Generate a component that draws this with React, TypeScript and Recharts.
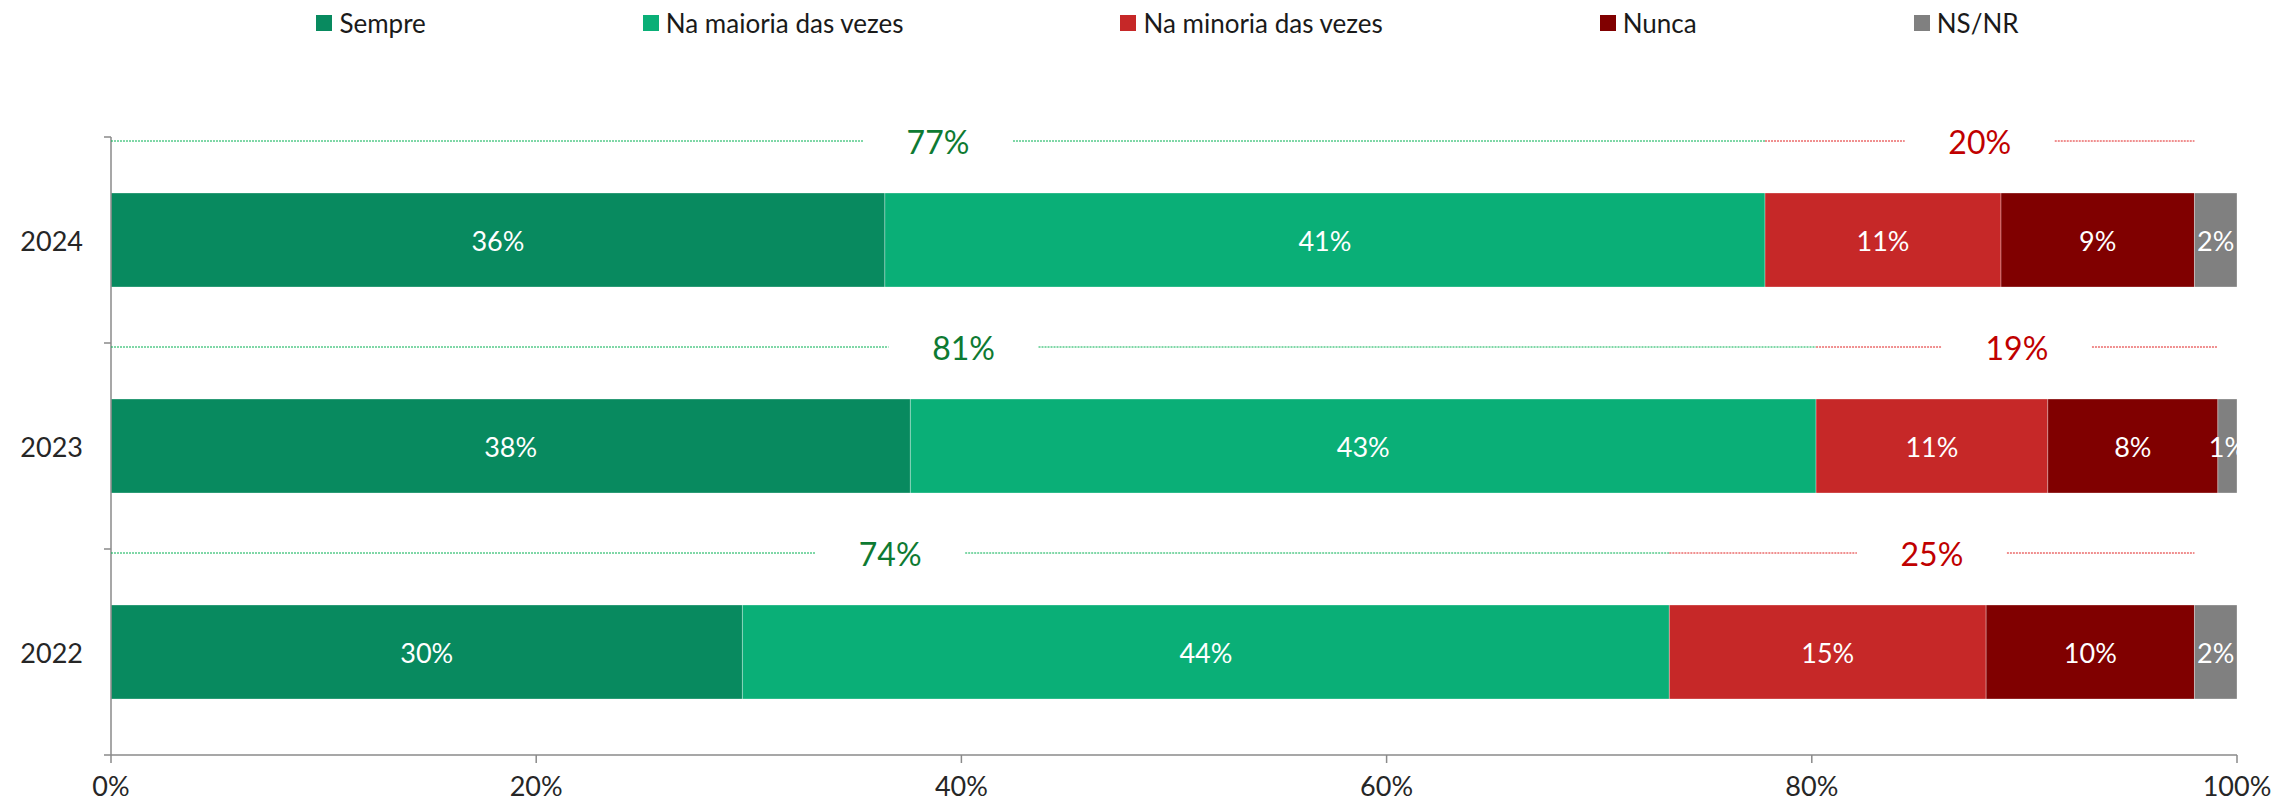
import React from 'react';
import { BarChart, Bar, XAxis, YAxis, Legend, LabelList } from 'recharts';

const years = ['2024', '2023', '2022'];
const sempre = [36.4, 37.6, 29.7];
const maioria = [41.4, 42.6, 43.6];
const minoria = [11.1, 10.9, 14.9];
const nunca = [9.1, 8.0, 9.8];
const nsnr = [2.0, 0.9, 2.0];
const xTicks = [0, 20, 40, 60, 80, 100];
const seriesKeys = ['sempre', 'maioria', 'minoria', 'nunca', 'nsnr'];
const seriesNames = ['Sempre', 'Na maioria das vezes', 'Na minoria das vezes', 'Nunca', 'NS/NR'];
const seriesColors = ['#088A5F', '#0AAF77', '#C62828', '#800000', '#808080'];

const data = years.map((year, i) => ({
  year,
  sempre: sempre[i],
  maioria: maioria[i],
  minoria: minoria[i],
  nunca: nunca[i],
  nsnr: nsnr[i],
}));

const FONT = 'Lato, "Open Sans", sans-serif';
const W = 2279;
const H = 796;
const MARGIN = { top: 129, right: 50, bottom: 9, left: 0 };
const X_AXIS_H = 40;
const PLOT_H = H - MARGIN.top - MARGIN.bottom - X_AXIS_H;
const AXIS = '#8a8a8a';
const GREEN_LINE = '#00B050';
const GREEN_TEXT = '#0E7A32';
const RED_LINE = '#E02020';
const RED_TEXT = '#C00000';

const YTick = (props: any) => {
  const { x, y, payload, index } = props;
  const axisX = x + 28;
  const band = PLOT_H / years.length;
  return (
    <g>
      <line x1={axisX - 7} x2={axisX} y1={y - band / 2} y2={y - band / 2} stroke={AXIS} strokeWidth={1.5} />
      {index === years.length - 1 && (
        <line x1={axisX - 7} x2={axisX} y1={y + band / 2} y2={y + band / 2} stroke={AXIS} strokeWidth={1.5} />
      )}
      <text x={x} y={y} textAnchor="end" dominantBaseline="central" fontSize={27} fontFamily={FONT} fill="#262626">
        {payload.value}
      </text>
    </g>
  );
};

const InnerLabel = (props: any) => {
  const vb = props.viewBox || props;
  const { x, y, width, height } = vb;
  const v = props.value;
  if (v == null) return null;
  const id = `clip-${props.index}-${Math.round(x)}-${Math.round(y)}`;
  return (
    <g>
      <defs>
        <clipPath id={id}>
          <rect x={x - 60} y={y} width={width + 60} height={height} />
        </clipPath>
      </defs>
      <text
        x={x + width / 2}
        y={y + height / 2}
        textAnchor="middle"
        dominantBaseline="central"
        fill="#ffffff"
        fontSize={27}
        fontFamily={FONT}
        clipPath={`url(#${id})`}
      >
        {Math.round(v)}%
      </text>
    </g>
  );
};

const Bracket = (props: any, first: number[], second: number[], lineColor: string, textColor: string) => {
  const vb = props.viewBox || props;
  const { x, y, width } = vb;
  const i = props.index;
  const end = x + (width / first[i]) * (first[i] + second[i]);
  const mid = (x + end) / 2;
  const ly = y - 52;
  const total = Math.round(first[i]) + Math.round(second[i]);
  const gap = 75;
  return (
    <g>
      <line x1={x} x2={mid - gap} y1={ly} y2={ly} stroke={lineColor} strokeWidth={1} strokeDasharray="2 1" />
      <line x1={mid + gap} x2={end} y1={ly} y2={ly} stroke={lineColor} strokeWidth={1} strokeDasharray="2 1" />
      <text x={mid} y={ly} textAnchor="middle" dominantBaseline="central" fill={textColor} fontSize={32} fontFamily={FONT}>
        {total}%
      </text>
    </g>
  );
};

const GreenBracket = (props: any) => Bracket(props, sempre, maioria, GREEN_LINE, GREEN_TEXT);
const RedBracket = (props: any) => Bracket(props, minoria, nunca, RED_LINE, RED_TEXT);

const LegendContent = () => (
  <div
    style={{
      display: 'flex',
      justifyContent: 'center',
      gap: 217,
      paddingLeft: 40,
      height: 30,
      alignItems: 'center',
      fontFamily: FONT,
      fontSize: 26,
      color: '#1a1a1a',
    }}
  >
    {seriesNames.map((n, i) => (
      <div key={n} style={{ display: 'flex', alignItems: 'center' }}>
        <span style={{ width: 16, height: 16, background: seriesColors[i], marginRight: 7, display: 'inline-block' }} />
        <span>{n}</span>
      </div>
    ))}
  </div>
);

export default function App() {
  return (
    <div style={{ width: W, height: H }}>
      <BarChart width={W} height={H} data={data} layout="vertical" margin={MARGIN} barSize={94}>
        <XAxis
          type="number"
          domain={[0, 100]}
          ticks={xTicks}
          tickFormatter={(v: number) => `${v}%`}
          height={X_AXIS_H}
          axisLine={{ stroke: AXIS, strokeWidth: 1.5 }}
          tickLine={{ stroke: AXIS, strokeWidth: 1.5 }}
          tickSize={8}
          tickMargin={14}
          tick={{ fontSize: 27, fontFamily: FONT, fill: '#262626' }}
          interval={0}
        />
        <YAxis
          type="category"
          dataKey="year"
          width={103}
          axisLine={{ stroke: AXIS, strokeWidth: 1.5 }}
          tickLine={false}
          tickSize={0}
          tickMargin={28}
          tick={<YTick />}
          interval={0}
        />
        <Legend
          layout="horizontal"
          verticalAlign="middle"
          align="center"
          content={<LegendContent />}
          wrapperStyle={{ top: 0, left: 0, width: W }}
        />
        {seriesKeys.map((k, si) => (
          <Bar
            key={k}
            dataKey={k}
            name={seriesNames[si]}
            stackId="a"
            fill={seriesColors[si]}
            stroke="#ffffff"
            strokeOpacity={0.3}
            strokeWidth={1}
            isAnimationActive={false}
          >
            <LabelList dataKey={k} content={<InnerLabel />} />
            {k === 'sempre' && <LabelList dataKey={k} content={<GreenBracket />} />}
            {k === 'minoria' && <LabelList dataKey={k} content={<RedBracket />} />}
          </Bar>
        ))}
      </BarChart>
    </div>
  );
}
